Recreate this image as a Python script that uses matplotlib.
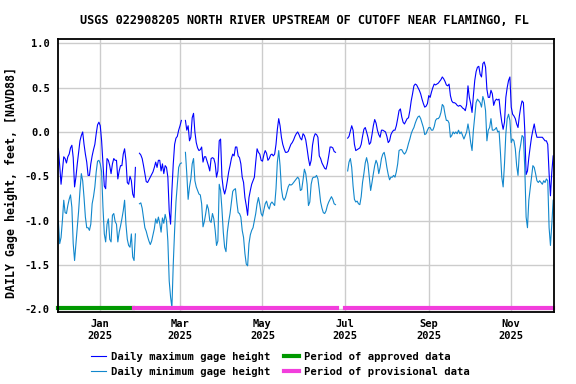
import numpy as np
import pandas as pd
import matplotlib
matplotlib.use("Agg")
import matplotlib.pyplot as plt

nan = np.nan

# daily values, one per day starting 2024-12-01 (feet, NAVD88)
start_date = "2024-12-01"
max_height = [
    -0.19, -0.38, -0.59, -0.44, -0.28, -0.30, -0.35, -0.28, -0.25, -0.18,
    -0.15, -0.29, -0.62, -0.51, -0.36, -0.23, -0.10, -0.04, 0.00, -0.14,
    -0.25, -0.34, -0.49, -0.49, -0.36, -0.27, -0.20, -0.14, -0.02, 0.08,
    0.11, 0.07, -0.10, -0.36, -0.61, -0.64, -0.30, -0.32, -0.38, -0.47,
    -0.36, -0.30, -0.32, -0.32, -0.53, -0.44, -0.38, -0.38, -0.25, -0.19,
    -0.32, -0.57, -0.59, -0.50, -0.55, -0.70, -0.74, -0.40, nan, nan,
    -0.24, -0.26, -0.30, -0.38, -0.47, -0.56, -0.57, -0.54, -0.51, -0.48,
    -0.45, -0.40, -0.34, -0.40, -0.32, -0.32, -0.44, -0.36, -0.47, -0.38,
    -0.40, -0.51, -0.89, -1.04, -0.66, -0.36, -0.14, -0.07, -0.05, 0.02,
    0.07, 0.13, nan, nan, 0.13, 0.02, 0.07, -0.10, -0.06, 0.16,
    0.21, 0.00, -0.12, -0.18, -0.21, -0.20, -0.17, -0.34, -0.28, -0.28,
    -0.33, -0.38, -0.44, -0.30, -0.29, -0.30, -0.36, -0.51, -0.44, -0.10,
    -0.08, -0.51, -0.64, -0.70, -0.64, -0.55, -0.45, -0.38, -0.30, -0.25,
    -0.27, -0.17, -0.17, -0.27, -0.29, -0.36, -0.51, -0.57, -0.74, -0.83,
    -0.94, -0.74, -0.66, -0.59, -0.55, -0.51, -0.34, -0.19, -0.23, -0.25,
    -0.32, -0.33, -0.26, -0.21, -0.24, -0.32, -0.30, -0.26, -0.25, -0.27,
    -0.25, -0.14, 0.03, 0.15, 0.07, -0.06, -0.14, -0.19, -0.23, -0.23,
    -0.22, -0.18, -0.14, -0.12, -0.09, -0.05, -0.02, 0.00, -0.03, -0.07,
    -0.09, -0.02, -0.04, -0.09, -0.19, -0.30, -0.38, -0.32, -0.15, -0.06,
    -0.02, -0.03, -0.06, -0.27, -0.30, -0.35, -0.38, -0.41, -0.42, -0.36,
    -0.27, -0.17, -0.17, -0.18, -0.22, -0.23, nan, nan, nan, nan,
    nan, nan, nan, nan, -0.07, -0.05, 0.01, 0.07, 0.02, -0.14,
    -0.21, -0.20, -0.19, -0.18, -0.14, -0.05, 0.03, 0.05, 0.00, -0.06,
    -0.14, -0.12, -0.03, 0.07, 0.14, 0.10, 0.02, -0.03, -0.06, 0.02,
    0.02, 0.01, 0.00, -0.05, -0.12, -0.10, -0.03, 0.00, 0.02, 0.02,
    0.07, 0.15, 0.24, 0.26, 0.17, 0.11, 0.09, 0.12, 0.15, 0.16,
    0.24, 0.35, 0.43, 0.52, 0.54, 0.53, 0.50, 0.47, 0.43, 0.37,
    0.32, 0.28, 0.29, 0.32, 0.41, 0.39, 0.45, 0.50, 0.54, 0.53,
    0.54, 0.55, 0.57, 0.59, 0.62, 0.60, 0.57, 0.53, 0.52, 0.54,
    0.41, 0.35, 0.33, 0.33, 0.32, 0.30, 0.29, 0.30, 0.29, 0.27,
    0.26, 0.24, 0.31, 0.52, 0.39, 0.32, 0.22, 0.41, 0.58, 0.68,
    0.73, 0.74, 0.65, 0.62, 0.77, 0.79, 0.73, 0.48, 0.39, 0.39,
    0.47, 0.43, 0.30, 0.35, 0.37, 0.36, 0.37, 0.22, 0.11, 0.03,
    0.11, 0.39, 0.50, 0.58, 0.62, 0.28, 0.20, 0.18, 0.15, 0.09,
    0.05, 0.18, 0.28, 0.35, 0.33, 0.02, -0.48, -0.44, -0.29, -0.17,
    -0.06, 0.02, 0.09, 0.00, -0.06, -0.06, -0.06, -0.06, -0.06, -0.08,
    -0.10, -0.10, -0.14, -0.47, -0.72, -0.45, -0.27,
]
min_height = [
    -1.00, -1.26, -1.19, -1.00, -0.77, -0.91, -0.92, -0.83, -0.76, -0.71,
    -0.85, -1.26, -1.45, -1.26, -1.08, -0.89, -0.66, -0.47, -0.55, -0.74,
    -0.96, -1.08, -1.08, -1.11, -1.04, -0.81, -0.73, -0.62, -0.45, -0.33,
    -0.32, -0.36, -0.45, -0.85, -1.15, -1.24, -1.04, -0.98, -1.21, -1.24,
    -0.94, -0.92, -1.01, -1.04, -1.24, -1.13, -1.06, -0.98, -0.89, -0.77,
    -1.04, -1.21, -1.28, -1.30, -1.15, -1.41, -1.45, -1.15, nan, nan,
    -0.81, -0.80, -0.86, -0.97, -1.08, -1.12, -1.18, -1.23, -1.27, -1.23,
    -1.16, -1.09, -0.98, -1.03, -0.96, -1.03, -1.13, -0.97, -1.03, -0.93,
    -1.00, -1.23, -1.68, -1.86, -1.98, -1.49, -1.11, -0.79, -0.59, -0.40,
    -0.36, -0.35, nan, nan, -0.23, -0.47, -0.76, -0.62, -0.53, -0.36,
    -0.30, -0.55, -0.62, -0.66, -0.70, -0.71, -0.81, -1.07, -1.01, -0.92,
    -0.82, -0.87, -1.00, -1.02, -0.92, -0.98, -1.11, -1.28, -1.23, -0.59,
    -0.66, -0.87, -1.13, -1.30, -1.35, -1.13, -1.01, -0.92, -0.79, -0.67,
    -0.65, -0.64, -0.79, -0.91, -0.92, -0.96, -1.11, -1.19, -1.37, -1.49,
    -1.51, -1.26, -1.16, -1.11, -1.08, -1.00, -0.92, -0.81, -0.74, -0.82,
    -0.92, -0.95, -0.88, -0.81, -0.78, -0.84, -0.87, -0.81, -0.79, -0.81,
    -0.83, -0.64, -0.34, -0.21, -0.38, -0.64, -0.74, -0.77, -0.74, -0.68,
    -0.62, -0.59, -0.60, -0.59, -0.57, -0.55, -0.53, -0.51, -0.53, -0.66,
    -0.65, -0.54, -0.42, -0.47, -0.59, -0.83, -0.79, -0.59, -0.52, -0.51,
    -0.51, -0.49, -0.53, -0.65, -0.79, -0.86, -0.91, -0.92, -0.89, -0.83,
    -0.79, -0.76, -0.73, -0.76, -0.81, -0.82, nan, nan, nan, nan,
    nan, nan, nan, nan, -0.44, -0.34, -0.30, -0.40, -0.61, -0.76,
    -0.79, -0.78, -0.81, -0.82, -0.73, -0.57, -0.47, -0.35, -0.29, -0.36,
    -0.51, -0.66, -0.57, -0.47, -0.38, -0.32, -0.36, -0.47, -0.40, -0.30,
    -0.25, -0.23, -0.30, -0.40, -0.48, -0.54, -0.51, -0.51, -0.49, -0.51,
    -0.45, -0.36, -0.21, -0.20, -0.20, -0.23, -0.25, -0.23, -0.19, -0.13,
    -0.08, -0.02, 0.02, 0.05, 0.10, 0.14, 0.17, 0.18, 0.15, 0.10,
    0.05, -0.03, -0.02, 0.02, 0.05, 0.05, 0.02, 0.02, 0.06, 0.13,
    0.15, 0.15, 0.17, 0.22, 0.31, 0.29, 0.20, 0.13, 0.13, 0.10,
    -0.06, -0.04, 0.00, -0.02, 0.00, -0.02, 0.02, -0.02, 0.00, -0.04,
    -0.08, -0.04, 0.00, 0.09, 0.00, -0.12, -0.21, 0.02, 0.18, 0.33,
    0.37, 0.35, 0.33, 0.28, 0.40, 0.35, 0.24, -0.10, 0.02, 0.05,
    0.15, 0.02, 0.02, 0.03, 0.05, 0.00, 0.01, -0.23, -0.51, -0.62,
    -0.36, -0.02, 0.15, 0.20, 0.13, -0.12, -0.08, -0.10, -0.19, -0.38,
    -0.49, -0.23, -0.14, -0.04, -0.06, -0.40, -0.96, -1.08, -0.77, -0.64,
    -0.51, -0.38, -0.40, -0.47, -0.55, -0.57, -0.55, -0.57, -0.59, -0.55,
    -0.57, -0.53, -0.55, -1.08, -1.28, -1.04, -0.77,
]

approved_periods = [("2024-12-01", "2025-01-25")]
provisional_periods = [("2025-01-26", "2025-03-02"),
                       ("2025-03-03", "2025-06-25"),
                       ("2025-07-01", "2025-12-02")]

tick_dates = ["2025-01-01", "2025-03-01", "2025-05-01",
              "2025-07-01", "2025-09-01", "2025-11-01"]
tick_labels = ["Jan\n2025", "Mar\n2025", "May\n2025",
               "Jul\n2025", "Sep\n2025", "Nov\n2025"]
yticks = [-2.0, -1.5, -1.0, -0.5, 0.0, 0.5, 1.0]

dates = pd.date_range(start_date, periods=len(max_height), freq="D")

plt.rcParams['font.family'] = 'DejaVu Sans Mono'
plt.rcParams['font.weight'] = 'bold'

fig = plt.figure(figsize=(5.76, 3.84), dpi=100)
ax = fig.add_axes([0.1012, 0.1867, 0.861, 0.711])

ax.plot(dates, max_height, color='#0000ff', lw=0.8,
        label='Daily maximum gage height')
ax.plot(dates, min_height, color='#1187cc', lw=0.8,
        label='Daily minimum gage height')

# approval status bars along the bottom
for i, (a, b) in enumerate(approved_periods):
    ax.plot([pd.Timestamp(a), pd.Timestamp(b)], [-1.99, -1.99], color='#009900',
            lw=3, clip_on=False, label='Period of approved data' if i == 0 else None)
for i, (a, b) in enumerate(provisional_periods):
    ax.plot([pd.Timestamp(a), pd.Timestamp(b)], [-1.99, -1.99], color='#f23edc',
            lw=3, clip_on=False, label='Period of provisional data' if i == 0 else None)

ax.set_xlim(pd.Timestamp("2024-11-30 23:00"), pd.Timestamp("2025-12-02 19:00"))
ax.set_ylim(-2.034, 1.045)
ax.set_yticks(yticks)
ax.set_yticklabels(["%.1f" % v for v in yticks])
ax.set_xticks([pd.Timestamp(d) for d in tick_dates])
ax.set_xticklabels(tick_labels)
ax.tick_params(length=0, labelsize=7.5)
ax.tick_params(axis='y', pad=6)
ax.tick_params(axis='x', pad=5)
ax.grid(True, color='#cccccc', lw=1)
ax.set_axisbelow(True)
for s in ax.spines.values():
    s.set_linewidth(1.3)

fig.text(0.528, 1 - 21 / 384, "USGS 022908205 NORTH RIVER UPSTREAM OF CUTOFF NEAR FLAMINGO, FL",
         ha='center', va='center', fontsize=8.6, fontweight='bold')
fig.text(11 / 576, 1 - 182 / 384, "DAILY Gage height, feet, [NAVD88]",
         rotation=90, ha='center', va='center', fontsize=8.4, fontweight='bold')

fig.legend(loc='center', bbox_to_anchor=(280.5 / 576, 1 - 364.5 / 384), ncol=2,
           frameon=False, fontsize=7.6, handlelength=1.45, handletextpad=0.45,
           columnspacing=1.3, labelspacing=0.5, borderaxespad=0)

fig.savefig("out.png", dpi=100)
